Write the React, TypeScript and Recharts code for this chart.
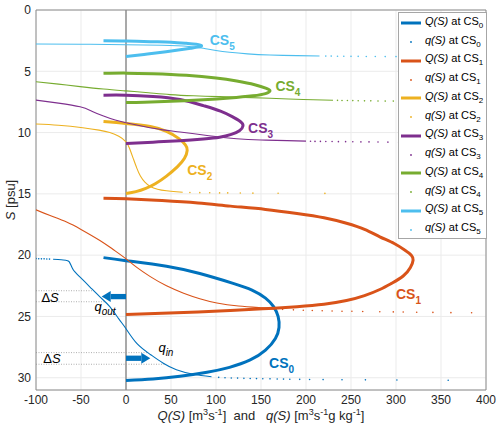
import React from "react";
import {
  ScatterChart,
  Scatter,
  XAxis,
  YAxis,
  CartesianGrid,
  ReferenceLine,
  ReferenceDot,
  Legend,
} from "recharts";

const FONT = "'Liberation Sans', Arial, Helvetica, sans-serif";
const AXIS = "#8c8c8c";
const TXT = "#262626";

const X_TICKS = [-100, -50, 0, 50, 100, 150, 200, 250, 300, 350, 400];
const Y_TICKS = [0, 5, 10, 15, 20, 25, 30];
const CS_COLORS = ["#0072BD", "#D95319", "#EDB120", "#7E2F8E", "#77AC30", "#4DBEEE"];

type Pt = [number, number]; // [Q or q, S]

// Q(S) loops
const Q_CS0: Pt[] = [[-25, 20.2], [0, 20.45], [45, 20.9], [82, 21.5], [119, 22.3], [140, 22.85], [155, 23.5], [164, 24.2], [169, 25.0], [170, 25.9], [166, 26.8], [155, 27.75], [138, 28.55], [115, 29.15], [90, 29.55], [60, 29.88], [30, 30.1], [0, 30.22]];
const Q_CS1: Pt[] = [[-25, 15.35], [0, 15.4], [40, 15.55], [80, 15.75], [116, 16.0], [155, 16.27], [190, 16.6], [220, 16.95], [245, 17.4], [265, 17.9], [282, 18.5], [298, 19.05], [310, 19.6], [317, 20.0], [319, 20.4], [316, 21.0], [308, 21.7], [295, 22.3], [282, 22.8], [265, 23.3], [245, 23.7], [220, 24.0], [190, 24.2], [152, 24.38], [116, 24.52], [80, 24.63], [40, 24.74], [0, 24.85]];
const Q_CS2: Pt[] = [[-25, 9.1], [0, 9.25], [27, 9.5], [45, 9.9], [58, 10.45], [66, 11.0], [68, 11.45], [65, 12.1], [57, 12.8], [45, 13.55], [33, 14.15], [22, 14.55], [11, 14.82], [0, 14.97]];
const Q_CS3: Pt[] = [[-25, 6.95], [0, 6.95], [30, 7.05], [60, 7.3], [86, 7.8], [105, 8.25], [118, 8.7], [127, 9.1], [130, 9.45], [126, 9.85], [117, 10.15], [104, 10.38], [86, 10.52], [60, 10.66], [30, 10.78], [0, 10.9]];
const Q_CS4: Pt[] = [[-25, 5.17], [0, 5.15], [30, 5.2], [67, 5.33], [100, 5.55], [123, 5.8], [143, 6.1], [156, 6.4], [160, 6.6], [155, 6.82], [141, 7.0], [115, 7.18], [86, 7.32], [50, 7.44], [20, 7.52], [0, 7.55]];
const Q_CS5: Pt[] = [[-25, 2.5], [0, 2.52], [27, 2.58], [50, 2.63], [67, 2.72], [78, 2.8], [84, 2.92], [80, 3.03], [72, 3.12], [60, 3.25], [40, 3.45], [20, 3.63], [0, 3.8]];

// q(S), densely sampled part
const q_CS0: Pt[] = [[-81, 20.33], [-72, 20.37], [-66, 20.43], [-63, 20.55], [-60, 21.0], [-57, 21.35], [-51, 21.8], [-40, 22.6], [-29, 23.4], [-18, 24.2], [-8, 25.2], [0, 26.0], [12, 27.2], [27, 28.1], [41, 28.8], [56, 29.35], [75, 29.72], [95, 29.92]];
const q_CS1: Pt[] = [[-100, 16.3], [-85, 16.75], [-66, 17.3], [-50, 17.9], [-29, 18.8], [-15, 19.5], [0, 20.3], [12, 21.0], [27, 21.75], [45, 22.5], [64, 23.1], [82, 23.55], [101, 23.9], [125, 24.15], [152, 24.3], [165, 24.38]];
const q_CS2: Pt[] = [[-100, 9.3], [-75, 9.4], [-48, 9.6], [-30, 9.8], [-18, 10.0], [-8, 10.3], [0, 10.75], [4, 11.3], [8, 12.1], [12, 12.9], [16, 13.55], [21, 14.05], [27, 14.4], [35, 14.62], [45, 14.75], [56, 14.83], [63, 14.87]];
const q_CS3: Pt[] = [[-100, 7.35], [-75, 7.6], [-51, 7.9], [-38, 8.25], [-25, 8.65], [-12, 8.98], [0, 9.2], [20, 9.5], [41, 9.78], [60, 9.95], [86, 10.2], [105, 10.38], [123, 10.5], [150, 10.6], [179, 10.66], [200, 10.7]];
const q_CS4: Pt[] = [[-100, 5.85], [-75, 6.05], [-51, 6.25], [-25, 6.45], [0, 6.6], [25, 6.75], [49, 6.9], [75, 7.0], [104, 7.07], [130, 7.13], [160, 7.2], [197, 7.3], [230, 7.36]];
const q_CS5: Pt[] = [[-100, 2.77], [-50, 2.79], [0, 2.83], [40, 2.88], [70, 2.98], [86, 3.12], [100, 3.3], [115, 3.45], [135, 3.58], [160, 3.67], [190, 3.72], [215, 3.75]];

// q(S), sparse samples shown as single dots
const qDots_CS0: Pt[] = [[-100, 20.28], [-97, 20.29], [-94, 20.3], [-91, 20.3], [-88, 20.31], [-85, 20.32], [103, 29.97], [110, 30.0], [117, 30.02], [124, 30.03], [131, 30.05], [138, 30.06], [145, 30.07], [152, 30.08], [160, 30.09], [168, 30.1], [175, 30.11], [182, 30.12], [193, 30.13], [204, 30.14], [219, 30.15], [240, 30.16], [266, 30.17], [301, 30.18], [358, 30.2]];
const qDots_CS1: Pt[] = [[174, 24.42], [186, 24.46], [197, 24.49], [207, 24.51], [218, 24.53], [229, 24.55], [240, 24.57], [251, 24.58], [263, 24.6], [282, 24.62], [297, 24.63], [308, 24.64], [323, 24.66], [341, 24.67], [361, 24.69], [384, 24.7]];
const qDots_CS2: Pt[] = [[71, 14.89], [82, 14.9], [93, 14.91], [104, 14.92], [113, 14.92], [127, 14.93], [141, 14.94], [169, 14.95], [221, 14.96]];
const qDots_CS3: Pt[] = [[205, 10.71], [210, 10.72], [216, 10.72], [222, 10.73], [229, 10.73], [236, 10.74], [244, 10.74], [252, 10.75], [261, 10.76], [270, 10.76], [280, 10.77], [291, 10.78], [303, 10.78], [316, 10.79], [330, 10.8], [345, 10.8], [362, 10.81], [380, 10.82], [392, 10.82]];
const qDots_CS4: Pt[] = [[235, 7.37], [240, 7.38], [246, 7.38], [252, 7.39], [258, 7.4], [265, 7.41], [272, 7.41], [280, 7.42], [288, 7.43], [297, 7.43], [306, 7.44], [316, 7.45], [327, 7.46], [339, 7.46], [352, 7.47], [366, 7.48], [382, 7.49], [398, 7.5]];
const qDots_CS5: Pt[] = [[222, 3.76], [228, 3.76], [235, 3.77], [242, 3.77], [250, 3.78], [258, 3.78], [267, 3.79], [277, 3.79], [288, 3.8], [300, 3.8], [313, 3.81], [328, 3.81], [344, 3.82], [362, 3.82], [382, 3.83]];

// label anchors [Q, S] for the CS names
const CS_LABEL_AT: Pt[] = [[159, 29.2], [300, 23.57], [68, 13.5], [135.6, 10.0], [166, 6.6], [93, 2.85]];

const SECTIONS = [
  { Q: Q_CS0, q: q_CS0, dots: qDots_CS0 },
  { Q: Q_CS1, q: q_CS1, dots: qDots_CS1 },
  { Q: Q_CS2, q: q_CS2, dots: qDots_CS2 },
  { Q: Q_CS3, q: q_CS3, dots: qDots_CS3 },
  { Q: Q_CS4, q: q_CS4, dots: qDots_CS4 },
  { Q: Q_CS5, q: q_CS5, dots: qDots_CS5 },
];

const toXY = (pts: Pt[]) => pts.map(([x, y]) => ({ x, y }));
const noShape = () => <g />;
const dotShape = (color: string) => (p: any) => <circle cx={p.cx} cy={p.cy} r={0.8} fill={color} />;

function LegendBox() {
  const rows: React.ReactNode[] = [];
  CS_COLORS.forEach((c, i) => {
    rows.push(
      <div key={"Q" + i} style={{ height: 18.75, display: "flex", alignItems: "center" }}>
        <svg width={26} height={10} style={{ flex: "none" }}>
          <line x1={2} x2={22} y1={5} y2={5} stroke={c} strokeWidth={3} />
        </svg>
        <span><i>Q(S)</i> at CS<sub style={{ fontSize: 8 }}>{i}</sub></span>
      </div>
    );
    rows.push(
      <div key={"q" + i} style={{ height: 18.75, display: "flex", alignItems: "center" }}>
        <svg width={26} height={10} style={{ flex: "none" }}>
          <circle cx={12} cy={5} r={0.9} fill={c} />
        </svg>
        <span><i>q(S)</i> at CS<sub style={{ fontSize: 8 }}>{i}</sub></span>
      </div>
    );
  });
  return (
    <div
      style={{
        width: 89,
        height: 227,
        boxSizing: "border-box",
        border: "1px solid #a6a6a6",
        background: "#fff",
        fontFamily: FONT,
        fontSize: 11,
        color: "#000",
        paddingTop: 1,
        lineHeight: "12px",
      }}
    >
      {rows}
    </div>
  );
}

// x-axis title, drawn 30px under the axis line
const xTitle = (p: any) => (
  <text x={p.cx} y={p.cy + 30} textAnchor="middle" fontSize={13} fill={TXT} fontFamily={FONT}>
    <tspan fontStyle="italic">Q(S)</tspan>
    <tspan> [m</tspan>
    <tspan dy={-5} fontSize={9}>3</tspan>
    <tspan dy={5}>s</tspan>
    <tspan dy={-5} fontSize={9}>-1</tspan>
    <tspan dy={5}>{"]\u00a0\u00a0and\u00a0\u00a0\u00a0"}</tspan>
    <tspan fontStyle="italic">q(S)</tspan>
    <tspan> [m</tspan>
    <tspan dy={-5} fontSize={9}>3</tspan>
    <tspan dy={5}>s</tspan>
    <tspan dy={-5} fontSize={9}>-1</tspan>
    <tspan dy={5}>g kg</tspan>
    <tspan dy={-5} fontSize={9}>-1</tspan>
    <tspan dy={5}>]</tspan>
  </text>
);

function YLabel() {
  return (
    <text x={15} y={200} textAnchor="middle" fontSize={13} fill={TXT} fontFamily={FONT} transform="rotate(-90 15 200)">
      <tspan fontStyle="italic">S</tspan>
      <tspan> [psu]</tspan>
    </text>
  );
}

const csLabel = (i: number) => (p: any) => (
  <text x={p.cx} y={p.cy} fill={CS_COLORS[i]} fontSize={14} fontWeight="bold" fontFamily={FONT}>
    CS<tspan dy={5} fontSize={10}>{i}</tspan>
  </text>
);

const plainText = (main: string, sub?: string) => (p: any) => (
  <text x={p.cx} y={p.cy} fontSize={13} fill="#000" fontFamily={FONT}>
    <tspan fontStyle="italic">{main}</tspan>
    {sub && <tspan dy={4} fontSize={10} fontStyle="italic">{sub}</tspan>}
  </text>
);

const deltaS = (p: any) => (
  <text x={p.cx} y={p.cy} fontSize={13} fill="#000" fontFamily={FONT}>
    Δ<tspan fontStyle="italic">S</tspan>
  </text>
);

const headLeft = (p: any) => (
  <polygon points={`${p.cx},${p.cy} ${p.cx + 9},${p.cy - 5.5} ${p.cx + 9},${p.cy + 5.5}`} fill={CS_COLORS[0]} />
);
const headRight = (p: any) => (
  <polygon points={`${p.cx},${p.cy} ${p.cx - 9},${p.cy - 5.5} ${p.cx - 9},${p.cy + 5.5}`} fill={CS_COLORS[0]} />
);

const tickStyle = { fontSize: 12, fill: TXT, fontFamily: FONT };

export default function App() {
  return (
    <div style={{ position: "absolute", left: 0, top: 0, width: 500, height: 435, background: "#fff", fontFamily: FONT }}>
      <ScatterChart width={500} height={435} margin={{ top: 10, right: 14, bottom: 0, left: 0 }}>
        <CartesianGrid stroke="#ebebeb" />
        <XAxis
          type="number"
          dataKey="x"
          domain={[-100, 400]}
          ticks={X_TICKS}
          height={45}
          tickSize={0}
          tickMargin={5}
          tickLine={false}
          axisLine={{ stroke: AXIS }}
          tick={tickStyle}
          allowDataOverflow
        />
        <YAxis
          type="number"
          dataKey="y"
          domain={[0, 31]}
          ticks={Y_TICKS}
          reversed
          width={36}
          tickSize={0}
          tickMargin={5}
          tickLine={false}
          axisLine={{ stroke: AXIS }}
          tick={tickStyle}
          allowDataOverflow
          label={{ content: YLabel }}
        />
        <XAxis xAxisId="bin" orientation="bottom" mirror type="number" domain={[-100, 400]} ticks={X_TICKS} tick={false} tickSize={4} axisLine={false} tickLine={{ stroke: AXIS }} allowDataOverflow />
        <XAxis xAxisId="top" orientation="top" mirror type="number" domain={[-100, 400]} ticks={X_TICKS} height={10} tick={false} tickSize={4} axisLine={{ stroke: AXIS }} tickLine={{ stroke: AXIS }} allowDataOverflow />
        <YAxis yAxisId="lin" orientation="left" mirror type="number" domain={[0, 31]} reversed ticks={Y_TICKS} tick={false} tickSize={4} axisLine={false} tickLine={{ stroke: AXIS }} allowDataOverflow />
        <YAxis yAxisId="right" orientation="right" mirror type="number" domain={[0, 31]} reversed ticks={Y_TICKS} width={10} tick={false} tickSize={4} axisLine={{ stroke: AXIS }} tickLine={{ stroke: AXIS }} allowDataOverflow />

        <ReferenceLine x={0} stroke="#8f8f8f" strokeWidth={1.5} />

        {/* Delta S guide lines */}
        <ReferenceLine segment={[{ x: -100, y: 22.9 }, { x: -36, y: 22.9 }]} stroke="#9a9a9a" strokeWidth={0.8} strokeDasharray="1 1.5" />
        <ReferenceLine segment={[{ x: -100, y: 23.8 }, { x: -23, y: 23.8 }]} stroke="#9a9a9a" strokeWidth={0.8} strokeDasharray="1 1.5" />
        <ReferenceLine segment={[{ x: -100, y: 27.95 }, { x: 25, y: 27.95 }]} stroke="#9a9a9a" strokeWidth={0.8} strokeDasharray="1 1.5" />
        <ReferenceLine segment={[{ x: -100, y: 28.9 }, { x: 43, y: 28.9 }]} stroke="#9a9a9a" strokeWidth={0.8} strokeDasharray="1 1.5" />

        {SECTIONS.map((s, i) => [
          <Scatter
            key={"Q" + i}
            name={"Q(S) at CS" + i}
            data={toXY(s.Q)}
            fill={CS_COLORS[i]}
            line={{ stroke: CS_COLORS[i], strokeWidth: 3 }}
            lineJointType="natural"
            shape={noShape}
            isAnimationActive={false}
          />,
          <Scatter
            key={"q" + i}
            name={"q(S) at CS" + i}
            data={toXY(s.q)}
            fill={CS_COLORS[i]}
            line={{ stroke: CS_COLORS[i], strokeWidth: 1.1 }}
            lineJointType="natural"
            shape={noShape}
            isAnimationActive={false}
          />,
          <Scatter
            key={"d" + i}
            name={"q(S) dots CS" + i}
            data={toXY(s.dots)}
            fill={CS_COLORS[i]}
            shape={dotShape(CS_COLORS[i])}
            isAnimationActive={false}
          />,
        ])}

        {/* arrows q_out / q_in */}
        <ReferenceLine segment={[{ x: 0, y: 23.38 }, { x: -17, y: 23.38 }]} stroke={CS_COLORS[0]} strokeWidth={5.3} />
        <ReferenceDot x={-27} y={23.38} r={0} shape={headLeft} />
        <ReferenceLine segment={[{ x: 0, y: 28.41 }, { x: 17, y: 28.41 }]} stroke={CS_COLORS[0]} strokeWidth={5.3} />
        <ReferenceDot x={27} y={28.41} r={0} shape={headRight} />

        <ReferenceDot x={-94} y={23.8} r={0} shape={deltaS} />
        <ReferenceDot x={-92} y={28.83} r={0} shape={deltaS} />
        <ReferenceDot x={-35} y={24.55} r={0} shape={plainText("q", "out")} />
        <ReferenceDot x={36} y={27.9} r={0} shape={plainText("q", "in")} />

        {CS_LABEL_AT.map(([x, y], i) => (
          <ReferenceDot key={"lab" + i} x={x} y={y} r={0} shape={csLabel(i)} />
        ))}

        <ReferenceDot x={150} y={31} r={0} ifOverflow="visible" shape={xTitle} />

        <Legend
          layout="vertical"
          align="center"
          verticalAlign="middle"
          content={() => <LegendBox />}
          wrapperStyle={{ top: 12, left: 398, width: 89, height: 227 }}
        />
      </ScatterChart>
    </div>
  );
}
